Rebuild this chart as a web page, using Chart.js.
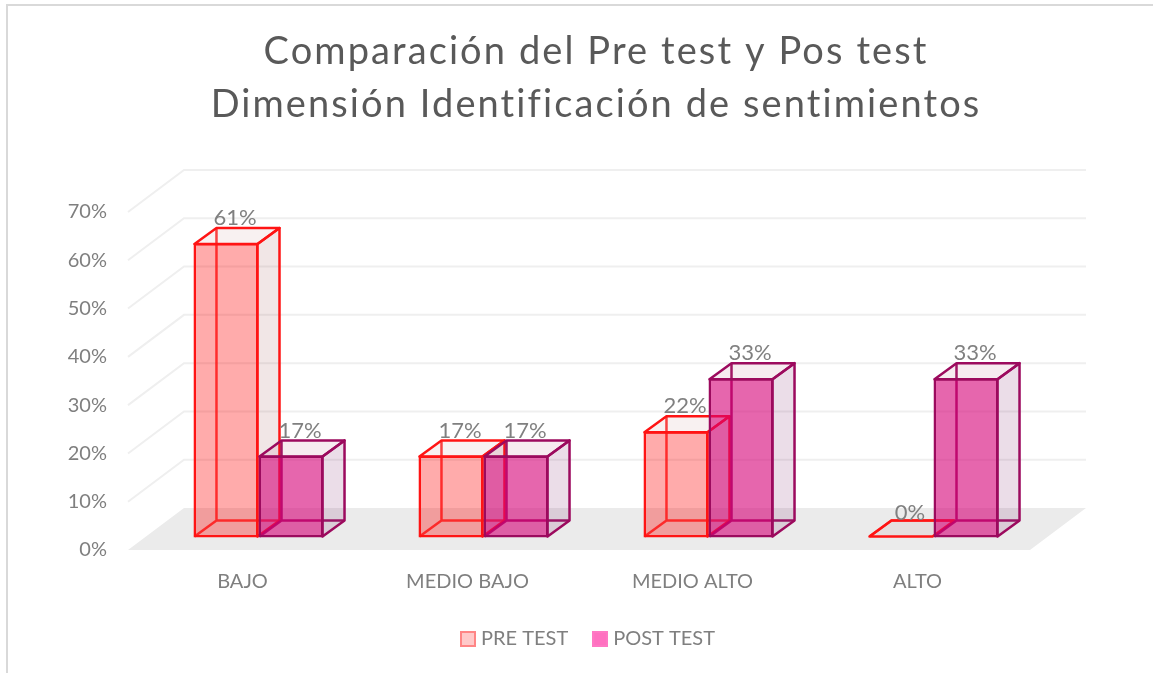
<!DOCTYPE html>
<html><head><meta charset="utf-8">
<style>html,body{margin:0;padding:0;background:#fff;overflow:hidden}canvas{display:block}</style>
<script src="https://cdn.jsdelivr.net/npm/chart.js@4/dist/chart.umd.min.js"></script>
</head><body>
<canvas id="c" width="1153" height="673"></canvas>
<script>
const categories = ['BAJO','MEDIO BAJO','MEDIO ALTO','ALTO'];
const seriesNames = ['PRE TEST','POST TEST'];
const preTest = [61,17,22,0];
const postTest = [17,17,33,33];
const yTicks = [0,10,20,30,40,50,60,70];
const titleLines = ['Comparación del Pre test y Pos test','Dimensión Identificación de sentimientos'];

const FONT = 'Lato, Carlito, sans-serif';
const BAR_DX = 16, BAR_DY = -12.5, DEPTH_X = 22, DEPTH_Y = -16;
const WALL_X = 56, WALL_Y = -42;
const EDGE = 2.5;
const LOOK = [
  {front:'rgba(255,0,0,0.33)', edge:'#ff1414', side:'rgba(150,60,60,0.13)', top:'rgba(150,60,60,0.07)', back:'rgba(255,20,20,0.8)'},
  {front:'rgba(214,0,118,0.6)', edge:'#9c0a5e', side:'rgba(120,30,100,0.15)', top:'rgba(150,30,90,0.09)', back:'rgba(156,10,94,0.95)'}
];

function swatch(fill,stroke){
  const c=document.createElement('canvas');c.width=16;c.height=16;
  const g=c.getContext('2d');
  g.fillStyle=fill;g.fillRect(0,0,16,16);
  g.strokeStyle=stroke;g.lineWidth=2;g.strokeRect(1,1,14,14);
  return c;
}
const swatches=[swatch('#ffc9c9','#ff8585'),swatch('#ff70c0','#ff78c4')];

const frame = {
  id:'frame',
  beforeDraw(chart){
    const {ctx,chartArea:a,scales:{y}} = chart;
    ctx.save();
    ctx.fillStyle='#d9d9d9';
    ctx.fillRect(6,4,1147,2);
    ctx.fillRect(6,4,2,669);
    const l=a.left-2, r=a.right;
    const y0=y.getPixelForValue(0);
    ctx.fillStyle='#ebebeb';
    ctx.beginPath();
    ctx.moveTo(l,y0);ctx.lineTo(l+WALL_X,y0+WALL_Y);ctx.lineTo(r+WALL_X,y0+WALL_Y);ctx.lineTo(r,y0);ctx.closePath();ctx.fill();
    ctx.strokeStyle='#efefef';ctx.lineWidth=2;
    yTicks.slice(1).forEach(v=>{
      const p=y.getPixelForValue(v);
      ctx.beginPath();ctx.moveTo(l,p);ctx.lineTo(l+WALL_X,p+WALL_Y);ctx.lineTo(r+WALL_X,p+WALL_Y);ctx.stroke();
    });
    ctx.restore();
  }
};

function drawValueLabels(chart){
  const ctx=chart.ctx;
  ctx.save();
  ctx.font='22px '+FONT;ctx.fillStyle='#808080';ctx.textAlign='center';ctx.textBaseline='middle';
  chart.data.datasets.forEach((ds,i)=>{
    chart.getDatasetMeta(i).data.forEach((el,j)=>{
      const b=el.getProps(['x','y'],true);
      ctx.fillText(ds.data[j]+'%',b.x+BAR_DX+9,b.y+BAR_DY-25);
    });
  });
  ctx.restore();
}

const bars3d = {
  id:'bars3d',
  afterLayout(chart){
    const tb=chart.titleBlock;
    tb.left+=81;tb.right+=81;
    chart.legend.left+=75;chart.legend.right+=75;
    if(!tb._spaced){
      tb._spaced=true;
      const d=tb.draw;
      tb.draw=function(){chart.ctx.letterSpacing='2.1px';d.apply(this,arguments);chart.ctx.letterSpacing='0px';};
    }
  },
  // series are painted left to right so that POST TEST lies over PRE TEST
  beforeDatasetsDraw(chart){
    [0,1].forEach(i=>chart._drawDataset(chart.getDatasetMeta(i)));
    drawValueLabels(chart);
    return false;
  },
  beforeDatasetDraw(chart,{meta,index}){
    const ctx=chart.ctx, L=LOOK[index];
    ctx.save();
    ctx.translate(BAR_DX,BAR_DY);
    meta.data.forEach(el=>{
      const b=el.getProps(['x','y','base','width'],true);
      const x0=b.x-b.width/2+1,x1=b.x+b.width/2-1,t=b.y+1,bt=b.base-1;
      const dx=DEPTH_X,dy=DEPTH_Y;
      const poly=(pts,fill,stroke)=>{
        ctx.beginPath();pts.forEach((p,i)=>i?ctx.lineTo(p[0],p[1]):ctx.moveTo(p[0],p[1]));ctx.closePath();
        if(fill){ctx.fillStyle=fill;ctx.fill();}
        if(stroke){ctx.strokeStyle=stroke;ctx.lineWidth=EDGE;ctx.lineJoin='round';ctx.stroke();}
      };
      const flat=b.base-b.y<1;
      const top=flat?b.base-1:t;
      ctx.strokeStyle=L.back;ctx.lineWidth=EDGE;
      ctx.beginPath();
      ctx.moveTo(x0+dx,bt+dy);ctx.lineTo(x0+dx,top+dy);
      ctx.moveTo(x0,bt);ctx.lineTo(x0+dx,bt+dy);ctx.lineTo(x1+dx,bt+dy);
      ctx.stroke();
      if(!flat) poly([[x1,top],[x1+dx,top+dy],[x1+dx,bt+dy],[x1,bt]],L.side,L.edge);
      poly([[x0,top],[x0+dx,top+dy],[x1+dx,top+dy],[x1,top]],L.top,L.edge);
    });
  },
  afterDatasetDraw(chart){ chart.ctx.restore(); }
};

new Chart(document.getElementById('c'),{
  type:'bar',
  data:{labels:categories,datasets:[
    {label:seriesNames[0],data:preTest,clip:false,backgroundColor:LOOK[0].front,borderColor:LOOK[0].edge,borderWidth:EDGE,borderSkipped:false},
    {label:seriesNames[1],data:postTest,clip:false,backgroundColor:LOOK[1].front,borderColor:LOOK[1].edge,borderWidth:EDGE,borderSkipped:false}
  ]},
  plugins:[frame,bars3d],
  options:{
    responsive:false,animation:false,
    layout:{padding:{left:0,right:123,top:0,bottom:14}},
    datasets:{bar:{categoryPercentage:0.578,barPercentage:1}},
    plugins:{
      title:{display:true,text:titleLines,color:'#595959',font:{family:FONT,size:38,weight:'normal',lineHeight:53/38},padding:{top:25,bottom:81}},
      legend:{position:'bottom',labels:{
        font:{family:FONT,size:20},color:'#7f7f7f',boxWidth:6,boxHeight:15,padding:29,
        usePointStyle:true,pointStyleWidth:6,
        generateLabels(){return [
          {text:seriesNames[0],pointStyle:swatches[0],fillStyle:'#ffc9c9',strokeStyle:'#ff8585',lineWidth:0,fontColor:'#7f7f7f',datasetIndex:0},
          {text:seriesNames[1],pointStyle:swatches[1],fillStyle:'#ff70c0',strokeStyle:'#ff78c4',lineWidth:0,fontColor:'#7f7f7f',datasetIndex:1}
        ];}
      }},
      tooltip:{enabled:false}
    },
    scales:{
      x:{grid:{display:false,drawTicks:false},border:{display:false},
         afterFit(s){s.height-=14;},
         ticks:{color:'#7f7f7f',font:{family:FONT,size:20},padding:20,maxRotation:0,autoSkip:false}},
      y:{min:0,max:70,grid:{display:false,drawTicks:false},border:{display:false},
         afterFit(s){s.width=130;},
         afterBuildTicks(s){s.ticks=yTicks.map(v=>({value:v}));},
         ticks:{color:'#7f7f7f',font:{family:FONT,size:20},padding:23,callback:v=>v+'%'}}
    }
  }
});
</script>
</body></html>
